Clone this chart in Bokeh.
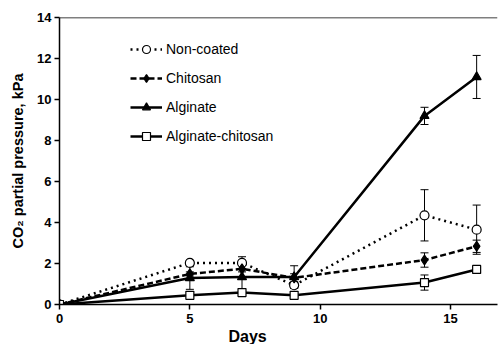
from bokeh.plotting import figure
from bokeh.models import (Range1d, Whisker, TeeHead, ColumnDataSource, Legend, LegendItem,
                          Span, Title, FixedTicker)
from bokeh.embed import file_html
from bokeh.resources import INLINE

days = [0, 5, 7, 9, 14, 16]
non_coated = [0.0, 2.03, 2.03, 0.94, 4.35, 3.65]
non_coated_err = [0.0, 0.1, 0.3, 0.15, 1.25, 1.2]
chitosan = [0.0, 1.49, 1.74, 1.3, 2.17, 2.84]
chitosan_err = [0.0, 0.1, 0.15, 0.2, 0.35, 0.3]
alginate = [0.0, 1.29, 1.34, 1.34, 9.2, 11.1]
alginate_err = [0.0, 0.55, 0.6, 0.55, 0.42, 1.05]
alg_chit = [0.0, 0.45, 0.58, 0.45, 1.07, 1.71]
alg_chit_err = [0.0, 0.05, 0.1, 0.05, 0.37, 0.1]

x_ticks = [0, 5, 10, 15]
y_ticks = [0, 2, 4, 6, 8, 10, 12, 14]

FONT = "Liberation Sans"

p = figure(width=498, height=344, output_backend="svg", toolbar_location=None,
           x_range=Range1d(0, 16.8), y_range=Range1d(0, 14),
           min_border_left=59, min_border_right=1, min_border_top=17, min_border_bottom=38)
p.outline_line_color = None
p.xgrid.visible = False
p.ygrid.visible = False
p.background_fill_color = "white"

for ax in (p.xaxis[0], p.yaxis[0]):
    ax.axis_line_width = 1.5
    ax.major_tick_line_width = 1.5
    ax.major_tick_out = 5
    ax.major_tick_in = 0
    ax.minor_tick_line_color = None
    ax.major_label_text_font = FONT
    ax.major_label_text_font_style = "bold"
    ax.major_label_text_font_size = "13px"
    ax.major_label_text_color = "black"
    ax.axis_line_color = "black"
    ax.major_tick_line_color = "black"

p.xaxis.ticker = FixedTicker(ticks=x_ticks)
p.yaxis.ticker = FixedTicker(ticks=y_ticks)
p.xaxis.major_label_standoff = 4
p.yaxis.major_label_standoff = 3

p.yaxis.axis_label = "CO\u2082 partial pressure, kPa"
p.yaxis.axis_label_text_font = FONT
p.yaxis.axis_label_text_font_style = "bold"
p.yaxis.axis_label_text_font_size = "14.5px"
p.yaxis.axis_label_text_color = "black"
p.yaxis.axis_label_standoff = 8

p.add_layout(Title(text="Days", align="left", offset=169, text_font=FONT,
                   text_font_style="bold", text_font_size="16px", text_color="black",
                   standoff=0), "below")

p.add_layout(Span(location=14, dimension="width", line_color="black", line_width=1.5))

series = [
    ("Non-coated", non_coated, non_coated_err, "dotted", "circle", "white", 9),
    ("Chitosan", chitosan, chitosan_err, "6 3", "diamond", "black", 10),
    ("Alginate", alginate, alginate_err, "solid", "triangle", "black", 9),
    ("Alginate-chitosan", alg_chit, alg_chit_err, "solid", "square", "white", 8),
]

items = []
for name, ys, errs, dash, marker, fill, size in series:
    src = ColumnDataSource(dict(x=days, y=ys,
                                lo=[a - b for a, b in zip(ys, errs)],
                                hi=[a + b for a, b in zip(ys, errs)]))
    ln = p.line("x", "y", source=src, line_color="black", line_width=2.5,
                line_dash=dash)
    w = Whisker(source=src, base="x", upper="hi", lower="lo", dimension="height",
                line_color="black", line_width=1,
                upper_head=TeeHead(size=8, line_color="black", line_width=1),
                lower_head=TeeHead(size=8, line_color="black", line_width=1))
    p.add_layout(w)
    items.append((name, ln, src, marker, fill, size))

legend_items = []
for name, ln, src, marker, fill, size in items:
    sc = p.scatter("x", "y", source=src, marker=marker, size=size, fill_color=fill,
                   line_color="black", line_width=1.2)
    legend_items.append(LegendItem(label=name, renderers=[ln, sc]))

legend = Legend(items=legend_items, location=(71, 158), orientation="vertical",
                label_text_font=FONT, label_text_font_size="14px",
                label_text_color="black",
                glyph_width=32, glyph_height=20, label_height=20, spacing=9,
                padding=0, margin=0, label_standoff=4,
                border_line_color=None, background_fill_alpha=0)
p.add_layout(legend, "center")

open("out.html", "w").write(file_html(p, INLINE))
